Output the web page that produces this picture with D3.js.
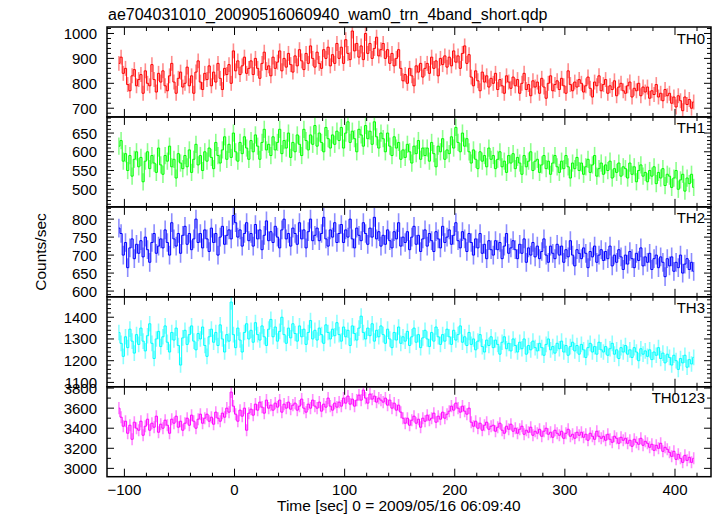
<!DOCTYPE html>
<html>
<head>
<meta charset="utf-8">
<script src="https://cdn.jsdelivr.net/npm/d3@7"></script>
<style>
  html, body { margin: 0; padding: 0; background: #fff; }
  svg { display: block; }
  text { font-family: "Liberation Sans", Arial, Helvetica, sans-serif; fill: #000; }
</style>
</head>
<body>
<svg id="chart" width="717" height="516"></svg>
<script>
// ---------- DATA ----------
const titleText = "ae704031010_20090516060940_wam0_trn_4band_short.qdp";
const xLabelText = "Time [sec] 0 = 2009/05/16 06:09:40";
const yLabelText = "Counts/sec";
const panelNames = ["TH0", "TH1", "TH2", "TH3", "TH0123"];

const tStart = -105;   // first bin time [sec]
const binSec = 2;      // bin width [sec]

const th0 = [
  880,905,840,860,795,770,830,855,790,815,
  835,760,850,800,790,875,815,765,840,805,
  850,790,770,830,880,805,760,820,845,785,
  800,865,790,830,760,845,890,805,775,840,
  815,870,790,845,805,880,820,775,860,835,
  875,800,930,850,890,835,870,905,840,860,
  890,835,900,860,820,880,925,855,870,830,
  905,860,885,930,850,900,865,920,875,845,
  910,870,935,890,855,920,880,950,900,865,
  925,880,860,935,900,945,870,915,880,960,
  900,945,880,975,920,895,1010,930,960,905,
  950,895,1000,920,960,900,940,985,910,935,
  960,900,935,880,920,870,900,935,860,810,
  835,800,860,830,790,870,845,880,825,860,
  880,840,905,860,890,830,900,875,910,865,
  905,870,930,885,910,860,920,950,880,915,
  825,790,850,810,770,845,805,830,785,820,
  800,840,775,815,790,760,830,805,780,825,
  790,815,760,800,840,775,795,750,810,785,
  805,760,820,785,740,800,830,770,795,810,
  775,820,790,760,850,795,770,805,785,815,
  800,765,790,825,780,745,805,790,830,770,
  795,815,760,790,775,810,750,785,800,770,
  760,790,805,745,780,770,800,750,785,765,
  785,740,770,755,795,745,760,730,775,750,
  760,720,745,705,750,730,690,745,715,735,
  700,725
];
const th1 = [
  615,630,575,595,550,590,535,580,600,560,
  585,520,575,600,555,590,570,545,610,565,
  540,590,575,615,560,580,530,595,570,555,
  590,560,605,545,580,620,565,590,550,600,
  575,610,585,555,625,590,570,605,640,580,
  620,585,650,600,575,625,595,640,610,580,
  630,600,645,615,580,625,660,605,620,590,
  640,605,625,660,595,630,610,650,585,625,
  600,645,620,590,660,630,605,645,620,670,
  615,650,625,600,665,635,610,645,620,655,
  630,665,610,650,680,625,655,635,600,660,
  645,615,670,635,655,620,680,640,610,650,
  635,600,650,615,590,640,610,625,580,605,
  585,620,600,570,615,595,630,580,610,590,
  610,575,625,595,560,615,600,635,580,605,
  595,640,610,665,625,600,650,615,635,600,
  570,605,580,555,600,575,590,560,610,580,
  590,555,580,600,560,575,545,590,570,595,
  555,585,570,540,590,560,575,600,550,575,
  580,545,565,590,555,575,540,570,590,560,
  545,575,555,590,560,530,570,555,585,550,
  570,540,560,580,545,565,590,535,555,570,
  540,565,550,575,530,555,545,570,535,560,
  555,530,570,540,560,520,550,565,535,545,
  520,550,535,560,515,545,530,555,510,540,
  535,505,530,550,500,525,540,495,530,515,
  540,505
];
const th2 = [
  775,760,700,735,665,720,745,690,730,705,
  740,695,750,715,680,735,760,705,725,745,
  720,770,735,700,790,745,725,760,705,755,
  780,730,760,715,745,800,735,760,720,770,
  745,710,775,735,760,700,750,780,730,755,
  770,745,810,790,750,770,725,760,790,740,
  760,725,785,745,770,715,755,795,740,765,
  735,780,750,720,770,800,745,760,725,775,
  760,730,790,745,770,720,765,800,740,755,
  775,740,760,805,745,725,770,750,790,735,
  760,785,735,770,750,800,745,720,775,755,
  740,790,760,730,775,750,805,745,765,725,
  755,730,770,740,720,765,745,790,725,750,
  735,765,715,750,780,730,755,710,745,770,
  725,760,740,710,765,745,720,780,735,750,
  770,730,755,790,740,720,765,745,710,760,
  735,700,745,720,760,705,730,690,740,715,
  700,740,715,735,690,725,760,705,720,740,
  715,690,730,705,745,680,720,700,735,695,
  725,690,710,745,700,680,725,705,690,730,
  700,725,680,715,695,740,700,670,715,705,
  690,720,705,665,710,695,725,680,700,715,
  685,710,690,725,670,700,680,715,695,660,
  700,675,710,690,665,705,685,720,670,695,
  680,705,660,690,700,665,695,680,640,690,
  670,695,655,680,665,700,650,675,690,660,
  680,655
];
const th3 = [
  1330,1280,1220,1310,1260,1345,1290,1235,1320,1275,
  1350,1290,1245,1315,1370,1280,1210,1300,1335,1265,
  1310,1360,1285,1240,1330,1295,1350,1270,1180,1305,
  1340,1275,1320,1360,1290,1250,1325,1300,1355,1270,
  1220,1310,1345,1285,1330,1270,1365,1300,1240,1320,
  1290,1470,1320,1260,1350,1295,1240,1330,1370,1300,
  1340,1285,1375,1320,1295,1360,1310,1270,1345,1390,
  1310,1355,1290,1335,1400,1320,1280,1350,1305,1370,
  1325,1290,1360,1310,1345,1275,1330,1385,1300,1340,
  1295,1350,1320,1280,1365,1330,1300,1345,1315,1375,
  1320,1290,1355,1310,1340,1270,1360,1325,1295,1350,
  1405,1330,1300,1350,1315,1370,1290,1340,1310,1360,
  1320,1280,1345,1300,1260,1330,1295,1355,1280,1310,
  1290,1335,1270,1310,1350,1285,1320,1260,1305,1340,
  1300,1265,1330,1290,1355,1310,1275,1320,1290,1345,
  1310,1275,1340,1295,1320,1360,1285,1310,1270,1330,
  1275,1300,1250,1290,1320,1265,1240,1295,1270,1310,
  1260,1295,1275,1230,1285,1310,1255,1280,1245,1300,
  1270,1240,1285,1255,1300,1230,1270,1250,1290,1260,
  1245,1280,1260,1225,1275,1300,1250,1265,1235,1280,
  1255,1290,1240,1270,1225,1265,1285,1245,1270,1230,
  1275,1250,1215,1260,1280,1240,1265,1230,1285,1250,
  1240,1265,1225,1255,1280,1230,1250,1210,1260,1240,
  1270,1230,1250,1215,1260,1240,1200,1255,1230,1245,
  1220,1250,1205,1240,1225,1260,1210,1235,1190,1230,
  1215,1180,1225,1200,1160,1210,1190,1225,1170,1205,
  1185,1215
];
const th0123 = [
  3600,3510,3420,3470,3350,3430,3290,3460,3400,3380,
  3470,3330,3420,3490,3380,3450,3410,3520,3360,3440,
  3400,3480,3430,3350,3490,3450,3520,3410,3470,3380,
  3450,3500,3430,3530,3470,3400,3490,3540,3450,3500,
  3540,3470,3510,3440,3560,3500,3470,3550,3510,3600,
  3560,3760,3620,3540,3470,3580,3520,3600,3380,3550,
  3590,3530,3640,3580,3660,3610,3550,3680,3600,3630,
  3580,3650,3610,3680,3560,3640,3600,3660,3590,3630,
  3650,3580,3620,3690,3600,3560,3640,3600,3680,3620,
  3600,3660,3570,3640,3610,3700,3620,3580,3650,3610,
  3660,3620,3700,3650,3720,3640,3690,3620,3680,3730,
  3680,3780,3700,3650,3740,3690,3720,3660,3700,3680,
  3660,3700,3630,3680,3600,3650,3580,3630,3560,3500,
  3450,3500,3430,3480,3520,3450,3490,3410,3500,3470,
  3530,3480,3500,3550,3460,3520,3490,3560,3500,3540,
  3570,3620,3580,3650,3600,3560,3620,3570,3540,3600,
  3460,3420,3470,3400,3450,3380,3430,3460,3390,3420,
  3430,3370,3410,3450,3380,3350,3420,3390,3440,3370,
  3400,3350,3390,3420,3340,3380,3360,3410,3330,3370,
  3350,3390,3320,3370,3400,3340,3360,3310,3380,3350,
  3330,3370,3300,3350,3390,3320,3340,3300,3360,3330,
  3360,3310,3340,3280,3350,3320,3290,3370,3320,3300,
  3320,3280,3340,3290,3260,3320,3300,3250,3310,3280,
  3300,3250,3280,3220,3290,3260,3240,3300,3230,3270,
  3250,3210,3240,3180,3230,3200,3250,3170,3210,3190,
  3160,3120,3170,3090,3140,3100,3060,3130,3080,3110,
  3060,3100
];
// 1-sigma error per bin for each band
const errors = [30, 23, 26, 36, 60];

// axis ranges and tick labels
const xDomain = [-115.8, 432.7];
const xTicks = [-100, 0, 100, 200, 300, 400];
const yDomains = [[665, 1026], [453, 693], [584, 834], [1080, 1494], [2917, 3813]];
const yTicks = [
  [700, 800, 900, 1000],
  [500, 550, 600, 650],
  [600, 650, 700, 750, 800],
  [1100, 1200, 1300, 1400],
  [3000, 3200, 3400, 3600, 3800]
];
const yMinorSteps = [20, 10, 10, 20, 100];
const xMinorStep = 20;

// ---------- DRAW ----------
(function draw() {
  const series = [th0, th1, th2, th3, th0123];
  const colors = ["#ff0000", "#00ff00", "#0000ff", "#00ffff", "#ff00ff"];

  const svg = d3.select("#chart");
  const pLeft = 107, pRight = 711, pTop = 27, pBottom = 476.7;
  const nP = series.length;
  const pH = (pBottom - pTop) / nP;

  const x = d3.scaleLinear().domain(xDomain).range([pLeft, pRight]);

  svg.append("text").attr("x", 108).attr("y", 20).attr("font-size", 16).text(titleText);

  series.forEach((vals, p) => {
    const y0 = pTop + p * pH, y1 = y0 + pH;
    const y = d3.scaleLinear().domain(yDomains[p]).range([y1, y0]);
    const g = svg.append("g");
    const clipId = "clip" + p;
    svg.append("clipPath").attr("id", clipId).append("rect")
      .attr("x", pLeft).attr("y", y0).attr("width", pRight - pLeft).attr("height", pH);

    const pts = vals.map((v, i) => ({ t: tStart + i * binSec, v }));
    const dg = g.append("g").attr("clip-path", `url(#${clipId})`);
    dg.selectAll("line.err").data(pts).join("line")
      .attr("x1", d => x(d.t)).attr("x2", d => x(d.t))
      .attr("y1", d => y(d.v - errors[p])).attr("y2", d => y(d.v + errors[p]))
      .attr("stroke", colors[p]).attr("stroke-opacity", 0.45).attr("stroke-width", 1.6);
    dg.append("path").datum(pts)
      .attr("d", d3.line().curve(d3.curveStep).x(d => x(d.t)).y(d => y(d.v)))
      .attr("fill", "none").attr("stroke", colors[p]).attr("stroke-width", 1);

    const [ymin, ymax] = yDomains[p];
    const minorStep = yMinorSteps[p];
    const minors = d3.range(Math.ceil(ymin / minorStep) * minorStep, ymax, minorStep)
      .filter(v => !yTicks[p].includes(v));
    const tickG = g.append("g").attr("stroke", "#000").attr("stroke-width", 1);
    minors.forEach(v => {
      tickG.append("line").attr("x1", pLeft).attr("x2", pLeft + 4).attr("y1", y(v)).attr("y2", y(v));
      tickG.append("line").attr("x1", pRight).attr("x2", pRight - 4).attr("y1", y(v)).attr("y2", y(v));
    });
    yTicks[p].forEach(v => {
      tickG.append("line").attr("x1", pLeft).attr("x2", pLeft + 7).attr("y1", y(v)).attr("y2", y(v));
      tickG.append("line").attr("x1", pRight).attr("x2", pRight - 7).attr("y1", y(v)).attr("y2", y(v));
      g.append("text").attr("x", 97).attr("y", y(v) + 5.5).attr("text-anchor", "end")
        .attr("font-size", 15).text(v);
    });

    const xMinors = d3.range(Math.ceil(xDomain[0] / xMinorStep) * xMinorStep, xDomain[1], xMinorStep)
      .filter(v => !xTicks.includes(v));
    xMinors.forEach(v => {
      tickG.append("line").attr("x1", x(v)).attr("x2", x(v)).attr("y1", y1).attr("y2", y1 - 4);
      tickG.append("line").attr("x1", x(v)).attr("x2", x(v)).attr("y1", y0).attr("y2", y0 + 4);
    });
    xTicks.forEach(v => {
      tickG.append("line").attr("x1", x(v)).attr("x2", x(v)).attr("y1", y1).attr("y2", y1 - 8);
      tickG.append("line").attr("x1", x(v)).attr("x2", x(v)).attr("y1", y0).attr("y2", y0 + 8);
    });

    g.append("rect").attr("x", pLeft).attr("y", y0).attr("width", pRight - pLeft).attr("height", pH)
      .attr("fill", "none").attr("stroke", "#000").attr("stroke-width", 1.5);

    g.append("text").attr("x", 705).attr("y", y0 + 16.5).attr("text-anchor", "end")
      .attr("font-size", 15).text(panelNames[p]);
  });

  const xAxisG = svg.append("g");
  xTicks.forEach(v => {
    xAxisG.append("text").attr("x", x(v)).attr("y", 495).attr("text-anchor", "middle")
      .attr("font-size", 15).text(v < 0 ? "\u2212" + Math.abs(v) : v);
  });

  svg.append("text").attr("x", 277).attr("y", 511).attr("font-size", 15.5).text(xLabelText);
  svg.append("text").attr("transform", "translate(46,252) rotate(-90)").attr("text-anchor", "middle")
    .attr("font-size", 15.5).text(yLabelText);
})();
</script>
</body>
</html>
